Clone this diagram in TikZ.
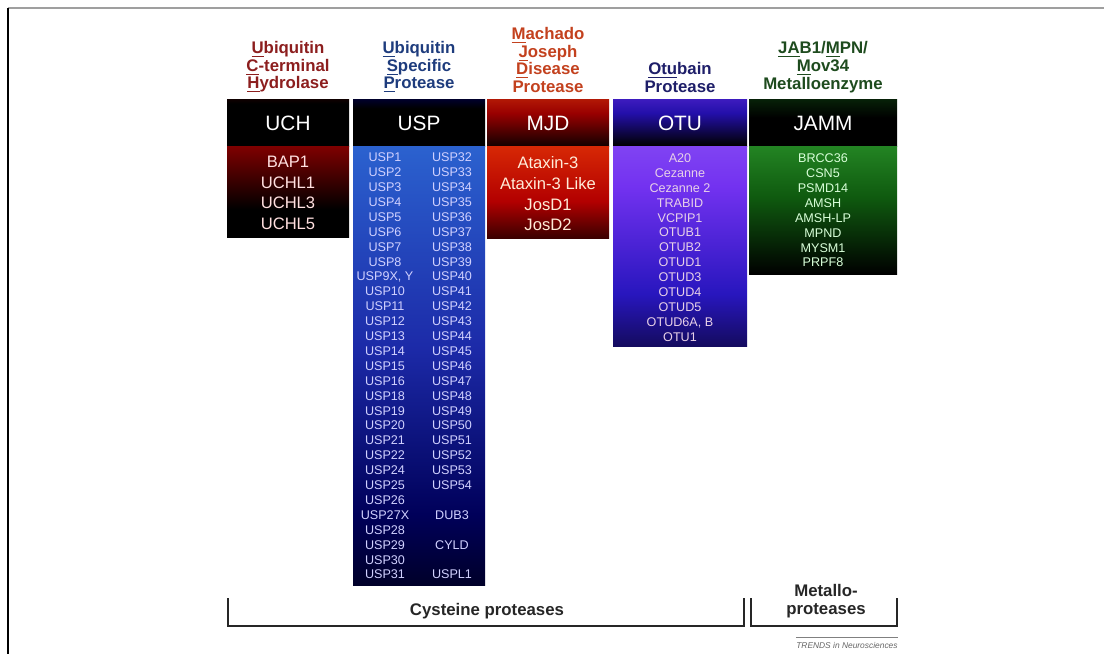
\documentclass[tikz,border=0pt]{standalone}
\usepackage{fontspec}
\setmainfont{Liberation Sans}
\usepackage{tikz}
\usetikzlibrary{positioning}

% title colours
\definecolor{uchtxt}{RGB}{140,30,30}
\definecolor{usptxt}{RGB}{30,60,125}
\definecolor{mjdtxt}{RGB}{195,65,30}
\definecolor{otutxt}{RGB}{30,30,105}
\definecolor{jammtxt}{RGB}{30,75,30}

% gradients of the boxes (0bp = bottom, 100bp = top)
\pgfdeclareverticalshading{uchhead}{100bp}{color(0bp)=(red!45!black); color(20bp)=(black); color(70bp)=(black); color(100bp)=(red!35!black)}
\pgfdeclareverticalshading{uchbody}{100bp}{color(0bp)=(black); color(40bp)=(black); color(75bp)=(red!50!black); color(100bp)=(red!80!black)}
\pgfdeclareverticalshading{usphead}{100bp}{color(0bp)=(blue!25!black); color(25bp)=(black); color(65bp)=(black); color(100bp)=(blue!60!black)}
\pgfdeclareverticalshading{uspbody}{100bp}{color(0bp)=(black); color(18bp)=(black); color(33bp)=(blue!35!black); color(52bp)=(rgb,255:red,28;green,42;blue,168); color(78bp)=(rgb,255:red,45;green,105;blue,212); color(100bp)=(rgb,255:red,75;green,150;blue,230)}
\pgfdeclareverticalshading{mjdhead}{100bp}{color(0bp)=(black); color(20bp)=(black); color(60bp)=(red!60!black); color(100bp)=(rgb,255:red,220;green,65;blue,15)}
\pgfdeclareverticalshading{mjdbody}{100bp}{color(0bp)=(black); color(15bp)=(black); color(45bp)=(red!70!black); color(75bp)=(rgb,255:red,215;green,40;blue,5); color(100bp)=(rgb,255:red,240;green,100;blue,20)}
\pgfdeclareverticalshading{otuhead}{100bp}{color(0bp)=(black); color(25bp)=(black); color(60bp)=(rgb,255:red,35;green,15;blue,170); color(100bp)=(rgb,255:red,105;green,50;blue,225)}
\pgfdeclareverticalshading{otubody}{100bp}{color(0bp)=(black); color(12bp)=(black); color(38bp)=(rgb,255:red,40;green,22;blue,190); color(65bp)=(rgb,255:red,115;green,50;blue,240); color(100bp)=(rgb,255:red,160;green,110;blue,250)}
\pgfdeclareverticalshading{jammhead}{100bp}{color(0bp)=(black); color(55bp)=(black); color(100bp)=(rgb,255:red,15;green,75;blue,18)}
\pgfdeclareverticalshading{jammbody}{100bp}{color(0bp)=(black); color(25bp)=(black); color(55bp)=(rgb,255:red,15;green,90;blue,15); color(100bp)=(rgb,255:red,60;green,185;blue,60)}

\tikzset{
  famtitle/.style={anchor=south, align=center, inner sep=0pt,
    font=\fontsize{8.4}{8.8}\selectfont\bfseries},
  famhead/.style={text=white, inner sep=0pt, font=\fontsize{10.4}{12}\selectfont},
  biglist/.style={align=center, inner sep=0pt, font=\fontsize{8.3}{10.35}\selectfont},
  smalllist/.style={align=center, inner sep=0pt, font=\fontsize{6.3}{7.45}\selectfont},
  brack/.style={black!85, line width=0.8pt}
}

\begin{document}
\begin{tikzpicture}[x=0.5pt, y=-0.5pt]
\useasboundingbox (0,0) rectangle (1104,654);

% frame
\draw[gray!75, line width=1pt] (8,8) -- (1104,8);
\draw[black, line width=0.8pt] (8,8) -- (8,654);

% boxes
\shade[shading=uchhead] (227,99) rectangle (349,146);
\shade[shading=uchbody] (227,146) rectangle (349,237);
\shade[shading=usphead] (353,99) rectangle (485,146);
\shade[shading=uspbody] (353,146) rectangle (485,585);
\shade[shading=mjdhead] (487,99) rectangle (609,146);
\shade[shading=mjdbody] (487,146) rectangle (609,238);
\shade[shading=otuhead] (613,99) rectangle (747,146);
\shade[shading=otubody] (613,146) rectangle (747,346);
\shade[shading=jammhead] (749,99) rectangle (897,146);
\shade[shading=jammbody] (749,146) rectangle (897,274);

% family names
\node[famtitle, text=uchtxt] (uchtitle) at (288,93)
  {\underline{U}biquitin\\\underline{C}-terminal\\\underline{H}ydrolase};
\node[famtitle, text=usptxt] (usptitle) at (419,93)
  {\underline{U}biquitin\\\underline{S}pecific\\\underline{P}rotease};
\node[famtitle, text=mjdtxt] (mjdtitle) at (548,93)
  {\underline{M}achado\\\underline{J}oseph\\\underline{D}isease\\Protease};
\node[famtitle, text=otutxt] (otutitle) at (680,93)
  {\underline{Otu}bain\\Protease};
\node[famtitle, text=jammtxt] (jammtitle) at (823,93)
  {\underline{JA}B1/\underline{M}PN/\\\underline{M}ov34\\Metalloenzyme};

% header labels
\node[famhead] (uchhead) at (288,123) {UCH};
\node[famhead] (usphead) at (419,123) {USP};
\node[famhead] (mjdhead) at (548,123) {MJD};
\node[famhead] (otuhead) at (680,123) {OTU};
\node[famhead] (jammhead) at (823,123) {JAMM};

% members
\node[biglist, text=white!88!red] (uchlist) at (288,193)
  {BAP1\\UCHL1\\UCHL3\\UCHL5};
\node[smalllist, text=white!82!blue] (uspleft) at (385,366)
  {USP1\\USP2\\USP3\\USP4\\USP5\\USP6\\USP7\\USP8\\USP9X, Y\\USP10\\USP11\\USP12\\USP13\\USP14\\USP15\\USP16\\USP18\\USP19\\USP20\\USP21\\USP22\\USP24\\USP25\\USP26\\USP27X\\USP28\\USP29\\USP30\\USP31};
\node[smalllist, text=white!82!blue] (uspright) at (452,366)
  {USP32\\USP33\\USP34\\USP35\\USP36\\USP37\\USP38\\USP39\\USP40\\USP41\\USP42\\USP43\\USP44\\USP45\\USP46\\USP47\\USP48\\USP49\\USP50\\USP51\\USP52\\USP53\\USP54\\ \\DUB3\\ \\CYLD\\ \\USPL1};
\node[biglist, text=white!85!orange] (mjdlist) at (548,194)
  {Ataxin-3\\Ataxin-3 Like\\JosD1\\JosD2};
\node[smalllist, text=white!82!violet] (otulist) at (680,247.5)
  {A20\\Cezanne\\Cezanne 2\\TRABID\\VCPIP1\\OTUB1\\OTUB2\\OTUD1\\OTUD3\\OTUD4\\OTUD5\\OTUD6A, B\\OTU1};
\node[smalllist, text=white!85!green] (jammlist) at (823,210.5)
  {BRCC36\\CSN5\\PSMD14\\AMSH\\AMSH-LP\\MPND\\MYSM1\\PRPF8};

% classes
\draw[brack] (228,598) -- (228,626) -- (744,626) -- (744,598);
\draw[brack] (751,598) -- (751,626) -- (897,626) -- (897,598);
\node[famtitle, anchor=center, text=black!85] (cysteine) at (487,611) {Cysteine proteases};
\node[famtitle, anchor=center, text=black!85] (metallo) at (826,601) {Metallo-\\proteases};

\node[anchor=east, inner sep=0pt, text=black!60, font=\fontsize{4.2}{5}\selectfont\itshape] (trends) at (898,645) {TRENDS in Neurosciences};
\draw[black!50, line width=0.4pt] ([yshift=2pt]trends.north west) -- ([yshift=2pt]trends.north east);
\end{tikzpicture}
\end{document}
